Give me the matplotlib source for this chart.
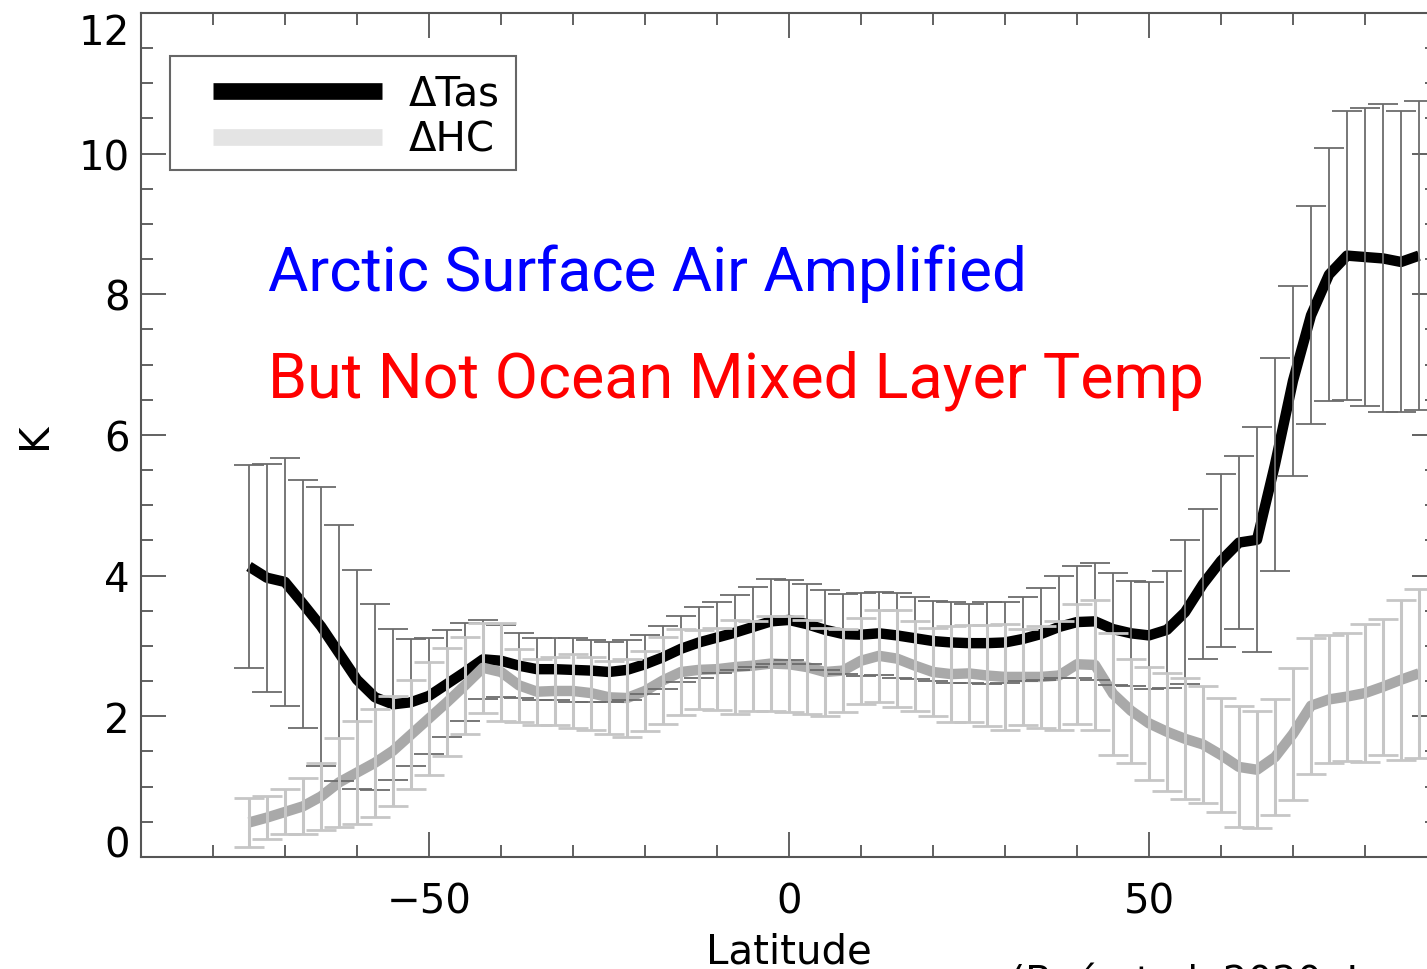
import matplotlib
matplotlib.use('Agg')
import matplotlib.pyplot as plt
from matplotlib.lines import Line2D
from matplotlib.patches import Rectangle
from matplotlib.ticker import MultipleLocator

# latitudes every 2.5 degrees
lat = [-75 + 2.5 * i for i in range(66)]

tas = [4.13, 3.97, 3.91, 3.60, 3.28, 2.90, 2.52, 2.27, 2.17, 2.20, 2.29, 2.46, 2.63, 2.81,
       2.79, 2.72, 2.67, 2.67, 2.66, 2.65, 2.63, 2.66, 2.74, 2.84, 2.96, 3.05, 3.12,
       3.19, 3.27, 3.35, 3.37, 3.31, 3.23, 3.17, 3.16, 3.18, 3.15, 3.11, 3.07, 3.05,
       3.04, 3.04, 3.05, 3.10, 3.17, 3.27, 3.34, 3.35, 3.24, 3.18, 3.15, 3.23, 3.48,
       3.88, 4.21, 4.47, 4.51, 5.58, 6.77, 7.70, 8.28, 8.55, 8.53, 8.51, 8.46, 8.55]
tas_err = [1.44, 1.62, 1.76, 1.76, 1.98, 1.82, 1.56, 1.32, 1.07, 0.90, 0.82, 0.76, 0.70, 0.56,
           0.51, 0.46, 0.44, 0.44, 0.45, 0.44, 0.42, 0.43, 0.42, 0.45, 0.47, 0.50, 0.51,
           0.53, 0.57, 0.60, 0.57, 0.57, 0.57, 0.57, 0.59, 0.59, 0.60, 0.58, 0.57, 0.57,
           0.56, 0.58, 0.57, 0.60, 0.65, 0.72, 0.80, 0.83, 0.80, 0.75, 0.76, 0.83, 1.02,
           1.07, 1.23, 1.23, 1.60, 1.51, 1.35, 1.55, 1.80, 2.05, 2.12, 2.19, 2.14, 2.20]

hc = [0.49, 0.56, 0.64, 0.72, 0.86, 1.06, 1.20, 1.34, 1.51, 1.74, 1.97, 2.20, 2.44, 2.69,
      2.63, 2.44, 2.35, 2.36, 2.36, 2.33, 2.27, 2.26, 2.36, 2.51, 2.63, 2.66, 2.67,
      2.70, 2.72, 2.75, 2.74, 2.70, 2.63, 2.65, 2.79, 2.86, 2.82, 2.72, 2.63, 2.60,
      2.61, 2.58, 2.56, 2.56, 2.56, 2.58, 2.74, 2.73, 2.32, 2.08, 1.90, 1.78, 1.68,
      1.60, 1.45, 1.28, 1.24, 1.42, 1.75, 2.15, 2.24, 2.28, 2.33, 2.42, 2.52, 2.61]
hc_err = [0.35, 0.31, 0.32, 0.40, 0.47, 0.63, 0.73, 0.77, 0.78, 0.78, 0.80, 0.77, 0.69, 0.64,
          0.69, 0.52, 0.47, 0.48, 0.52, 0.52, 0.52, 0.55, 0.57, 0.62, 0.61, 0.56, 0.58,
          0.67, 0.64, 0.67, 0.68, 0.67, 0.62, 0.59, 0.61, 0.65, 0.69, 0.64, 0.62, 0.68,
          0.69, 0.72, 0.75, 0.68, 0.72, 0.77, 0.85, 0.92, 0.87, 0.74, 0.80, 0.84, 0.86,
          0.83, 0.81, 0.86, 0.83, 0.82, 0.94, 0.97, 0.91, 0.91, 0.98, 0.97, 1.14, 1.20]

fig = plt.figure(figsize=(14.27, 9.70), dpi=100)
ax = fig.add_axes([0.0988, 0.1155, 0.9082, 0.8701])

ax.plot(lat, tas, color='black', lw=7.5, solid_capstyle='butt', zorder=2)
ax.plot(lat, hc, color='#a9a9a9', lw=7.5, solid_capstyle='butt', zorder=2)
ax.errorbar(lat, tas, yerr=tas_err, fmt='none', ecolor='#6c6c6c', elinewidth=1.3,
            capsize=11, capthick=1.3, zorder=3)
ax.errorbar(lat, hc, yerr=hc_err, fmt='none', ecolor='#c6c6c6', elinewidth=2.2,
            capsize=11, capthick=2.0, zorder=3)

ax.set_xlim(-90, 90)
ax.set_ylim(0, 12)
ax.set_xticks([-50, 0, 50])
ax.xaxis.set_minor_locator(MultipleLocator(10))
ax.set_yticks([0, 2, 4, 6, 8, 10, 12])
ax.yaxis.set_minor_locator(MultipleLocator(0.5))
ax.tick_params(which='both', direction='in', top=True, right=True, color='#555555',
               width=1.3, labelsize=29)
ax.tick_params(which='major', length=18)
ax.tick_params(which='minor', length=8.5)
ax.tick_params(axis='x', pad=18)
ax.tick_params(axis='y', pad=8)
for s in ax.spines.values():
    s.set_color('#555555')
    s.set_linewidth(1.5)

# end labels sit inside the axis range, as in the original
ylabels = ax.get_yticklabels()
ylabels[0].set_va('baseline')
ylabels[-1].set_va('top')

ax.set_xlabel('Latitude', fontsize=29, labelpad=7)
ax.set_ylabel('K', fontsize=29, labelpad=17)

# legend box drawn separately so the padding matches
ax.add_patch(Rectangle((0.0224, 0.814), 0.267, 0.135, transform=ax.transAxes,
                       facecolor='white', edgecolor='#666666', lw=1.5, zorder=5))
handles = [Line2D([], [], color='black', lw=12, solid_capstyle='butt'),
           Line2D([], [], color='#e4e4e4', lw=12, solid_capstyle='butt')]
leg = ax.legend(handles, ['ΔTas', 'ΔHC'], loc='upper left', bbox_to_anchor=(0.0556, 0.928),
                fontsize=29, frameon=False, borderpad=0, labelspacing=0.15,
                handlelength=4.2, handletextpad=0.65, borderaxespad=0)
leg.set_zorder(6)

ax.text(0.098, 0.672, 'Arctic Surface Air Amplified', transform=ax.transAxes,
        color='#0000ff', fontsize=44.6, family='Roboto', va='baseline')
ax.text(0.098, 0.545, 'But Not Ocean Mixed Layer Temp', transform=ax.transAxes,
        color='#ff0000', fontsize=45.3, family='Roboto', va='baseline')

fig.text(1010 / 1427, -0.0247, '(Boé et al. 2020, J', fontsize=28, color='black',
         va='baseline')

fig.savefig('out.png', dpi=100)
